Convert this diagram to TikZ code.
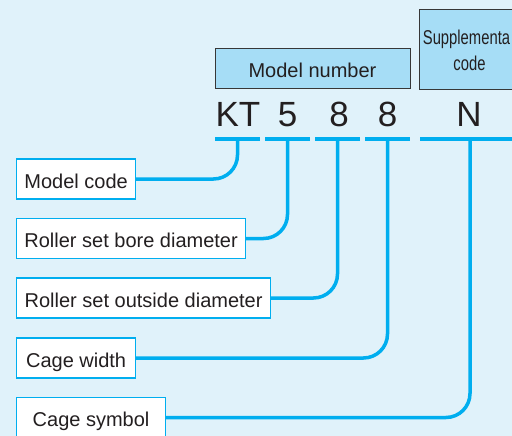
\documentclass[tikz,border=0pt]{standalone}
\usepackage{fontspec}
\setmainfont{Liberation Sans}
\newfontfamily\narrowfont[FakeStretch=0.74]{Liberation Sans}
\definecolor{bgblue}{RGB}{224,242,250}
\definecolor{boxblue}{RGB}{166,221,246}
\definecolor{lineblue}{RGB}{0,174,239}
\definecolor{textgray}{RGB}{35,31,32}
\definecolor{darkborder}{RGB}{55,55,55}
\begin{document}
\begin{tikzpicture}[x=1pt,y=-1pt,
  conn/.style={draw=lineblue, line width=3.5pt, rounded corners=24pt},
  uline/.style={draw=lineblue, line width=3.5pt},
  labelbox/.style={draw=lineblue, line width=1.2pt, fill=white, minimum height=40pt,
    inner sep=0pt, text height=18pt, text depth=0pt, anchor=west,
    font=\fontsize{20}{24}\selectfont, text=textgray},
  headbox/.style={draw=darkborder, line width=1pt, fill=boxblue, inner sep=0pt,
    text height=18pt, text depth=0pt, font=\fontsize{20}{24}\selectfont, text=textgray},
  bigchar/.style={anchor=base, inner sep=0pt, font=\fontsize{35}{40}\selectfont, text=textgray},
  suptext/.style={anchor=base, inner sep=0pt, font=\narrowfont\fontsize{20}{24}\selectfont, text=textgray}
]
\useasboundingbox (0,0) rectangle (512,436);
\clip (0,0) rectangle (512,436);
\fill[bgblue] (0,0) rectangle (512,436);

% header boxes
\node[headbox, minimum width=195pt, minimum height=40pt] (mn) at (312.5,69) {Model number};
\node[headbox, minimum width=110pt, minimum height=80pt, anchor=north west] (sup) at (419,9) {};
\node[suptext] (sup1) at (466.5,45) {Supplementa};
\node[suptext] (sup2) at (469.5,71) {code};

% code characters
\node[bigchar] (kt) at (238,127) {KT};
\node[bigchar] (c5) at (287.5,127) {5};
\node[bigchar] (c8a) at (339,127) {8};
\node[bigchar] (c8b) at (387.5,127) {8};
\node[bigchar] (cn) at (469,127) {N};

% underline segments
\coordinate (u1a) at (215,139); \coordinate (u1b) at (260,139);
\coordinate (u2a) at (265,139); \coordinate (u2b) at (310,139);
\coordinate (u3a) at (315,139); \coordinate (u3b) at (360,139);
\coordinate (u4a) at (365,139); \coordinate (u4b) at (410,139);
\coordinate (u5a) at (420,139); \coordinate (u5b) at (520,139);
\draw[uline] (u1a) -- (u1b);
\draw[uline] (u2a) -- (u2b);
\draw[uline] (u3a) -- (u3b);
\draw[uline] (u4a) -- (u4b);
\draw[uline] (u5a) -- (u5b);

% stem tops
\coordinate (t1) at (237.5,139);
\coordinate (t2) at (287.5,139);
\coordinate (t3) at (337.5,139);
\coordinate (t4) at (387.5,139);
\coordinate (t5) at (470,139);

% label boxes
\node[labelbox, minimum width=119pt] (mc) at (16,179) {Model code};
\node[labelbox, minimum width=229pt] (bore) at (16,238.5) {Roller set bore diameter};
\node[labelbox, minimum width=254pt] (outd) at (16,298) {Roller set outside diameter};
\node[labelbox, minimum width=119pt] (cw) at (16,358) {Cage width};
\node[labelbox, minimum width=149pt] (cs) at (16,417.5) {Cage symbol};

% connectors
\draw[conn] (mc.east) -| (t1);
\draw[conn] (bore.east) -| (t2);
\draw[conn] (outd.east) -| (t3);
\draw[conn] (cw.east) -| (t4);
\draw[conn] (cs.east) -| (t5);
\end{tikzpicture}
\end{document}
